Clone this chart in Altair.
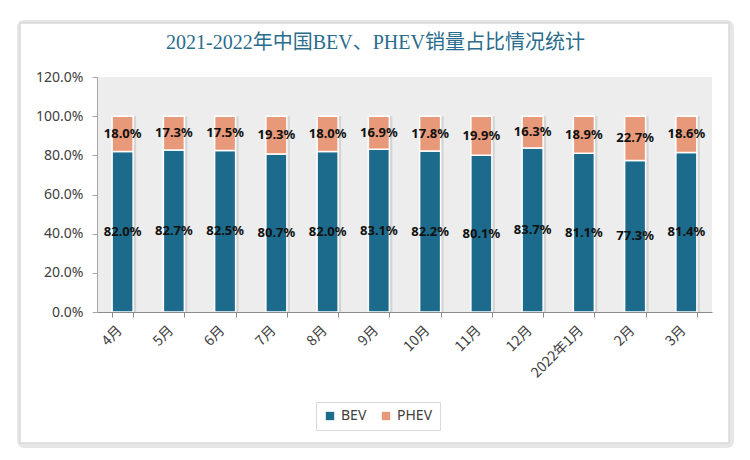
import altair as alt
import pandas as pd

months = ["4月", "5月", "6月", "7月", "8月", "9月", "10月", "11月", "12月", "2022年1月", "2月", "3月"]
bev = [82.0, 82.7, 82.5, 80.7, 82.0, 83.1, 82.2, 80.1, 83.7, 81.1, 77.3, 81.4]
phev = [18.0, 17.3, 17.5, 19.3, 18.0, 16.9, 17.8, 19.9, 16.3, 18.9, 22.7, 18.6]
series = ["BEV", "PHEV"]
colors = ["#1C6A8C", "#E8997A"]
y_ticks = [0, 0.2, 0.4, 0.6, 0.8, 1.0, 1.2]

rows = []
for i, m in enumerate(months):
    b = bev[i] / 100
    p = phev[i] / 100
    rows.append({"month": m, "type": "BEV", "value": b, "start": 0, "end": b, "mid": b / 2, "order": 0})
    rows.append({"month": m, "type": "PHEV", "value": p, "start": b, "end": b + p, "mid": b + p / 2, "order": 1})
df = pd.DataFrame(rows)

W, H = 615, 235
CJK = "Noto Sans CJK SC"

x_enc = alt.X("month:N", sort=months, title=None,
              scale=alt.Scale(paddingInner=0.59, paddingOuter=0.295),
              axis=alt.Axis(labelAngle=-45, labelAlign="right", labelBaseline="middle",
                            labelFontSize=14, labelColor="#404040", labelFont=CJK,
                            labelPadding=11, labelOverlap=False, zindex=1, labelOffset=-3,
                            tickBand="extent", tickSize=5, tickColor="#8C8C8C",
                            domainColor="#8C8C8C", domainWidth=1.2, grid=False))
y_axis = alt.Axis(values=y_ticks, format=".1%", labelFontSize=14,
                  labelColor="#404040", labelFont="Noto Sans", zindex=1,
                  labelOverlap=False,
                  grid=False, domainColor="#A6A6A6", tickColor="#A6A6A6",
                  tickSize=5, labelPadding=9)
y_scale = alt.Scale(domain=[0, 1.2])

frame_data = alt.Data(values=[{"k": 1}])

shadow_frame = alt.Chart(frame_data).mark_rect(
    fill="#F2F2F2", stroke="#E6E6E6", strokeWidth=6, cornerRadius=4
).encode(x=alt.value(-77), x2=alt.value(634), y=alt.value(-54), y2=alt.value(368))

frame = alt.Chart(frame_data).mark_rect(
    fill="white", stroke="#D9D9D9", strokeWidth=1.5
).encode(x=alt.value(-77), x2=alt.value(632), y=alt.value(-54), y2=alt.value(366))

plot_bg = alt.Chart(frame_data).mark_rect(fill="#EDEDED").encode(
    x=alt.value(0), x2=alt.value(W), y=alt.value(0), y2=alt.value(H))

base = alt.Chart(df)

shadow = base.mark_bar(color="#000000", opacity=0.10, xOffset=3).encode(
    x=x_enc,
    y=alt.Y("start:Q", scale=y_scale, title=None, axis=y_axis),
    y2="end:Q",
)

bars = base.mark_bar(stroke="white", strokeWidth=1.5).encode(
    x=x_enc,
    y=alt.Y("start:Q", scale=y_scale, title=None, axis=y_axis),
    y2="end:Q",
    color=alt.Color("type:N", scale=alt.Scale(domain=series, range=colors), title=None,
                    legend=alt.Legend(orient="none", legendX=219, legendY=325,
                                      direction="horizontal", symbolType="square",
                                      symbolSize=70, symbolStrokeWidth=0,
                                      labelFontSize=14, labelFont="Noto Sans",
                                      labelColor="#404040",
                                      strokeColor="#D9D9D9", padding=7,
                                      columnPadding=12, fillColor="white")),
    order=alt.Order("order:Q"),
)

labels = base.mark_text(fontSize=13, fontWeight="bold", font="Noto Sans", color="#111111").encode(
    x=x_enc,
    y=alt.Y("mid:Q", scale=y_scale, title=None, axis=y_axis),
    text=alt.Text("value:Q", format=".1%"),
)

chart = alt.layer(shadow_frame, frame, plot_bg, shadow, bars, labels).properties(
    width=W, height=H,
    padding={"left": 89, "top": 69, "right": 30, "bottom": 140},
    autosize=alt.AutoSizeParams(type="none"),
    title=alt.TitleParams("2021-2022年中国BEV、PHEV销量占比情况统计",
                          font="Liberation Serif, Noto Sans CJK SC", fontSize=20,
                          fontWeight="normal", color="#2A6C8C", anchor="middle",
                          frame="group", offset=-33, dx=-29, zindex=2),
).configure_view(stroke=None).configure_axis(labelOverlap=False).configure(background="white")

chart.save("out.html", embed_options={"renderer": "svg", "actions": False})
